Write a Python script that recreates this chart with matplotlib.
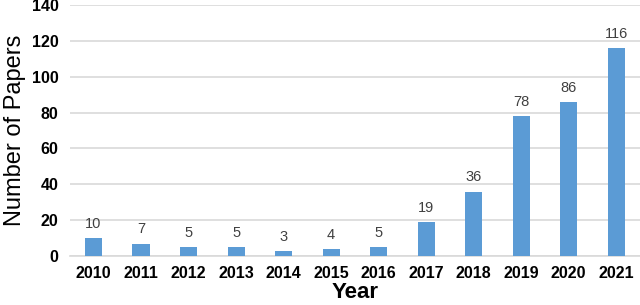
import matplotlib.pyplot as plt
import numpy as np

years = ['2010', '2011', '2012', '2013', '2014', '2015', '2016',
         '2017', '2018', '2019', '2020', '2021']
papers = [10, 7, 5, 5, 3, 4, 5, 19, 36, 78, 86, 116]

plt.rcParams['font.family'] = ['Liberation Sans', 'DejaVu Sans']

fig = plt.figure(figsize=(6.4, 3.05), dpi=100)
ax = fig.add_axes([0.109, 0.16, 0.891, 0.824])

x = np.arange(len(years))
ax.bar(x, papers, width=0.36, color='#5B9BD5', zorder=3)
for xi, v in zip(x, papers):
    ax.text(xi, v + 4, str(v), ha='center', va='bottom', fontsize=10.5, color='#404040')

ax.set_xlim(-0.5, len(years) - 0.5)
ax.set_ylim(0, 140)
ax.set_yticks(range(0, 141, 20))
ax.set_xticks(x)
ax.set_xticklabels(years)
ax.grid(axis='y', color='#D9D9D9', linewidth=1.2, zorder=0)
for s in ['top', 'right', 'left']:
    ax.spines[s].set_visible(False)
ax.spines['bottom'].set_color('#D9D9D9')
ax.spines['bottom'].set_linewidth(1.2)
ax.tick_params(axis='both', length=0, labelsize=11.5, colors='black')
ax.tick_params(axis='x', pad=7)
ax.tick_params(axis='y', pad=8)
for lbl in ax.get_xticklabels() + ax.get_yticklabels():
    lbl.set_fontweight('bold')

ax.set_ylabel('Number of Papers', fontsize=17, labelpad=4)
ax.set_xlabel('Year', fontsize=16, fontweight='bold', labelpad=1)

fig.savefig('out.png', dpi=100)
